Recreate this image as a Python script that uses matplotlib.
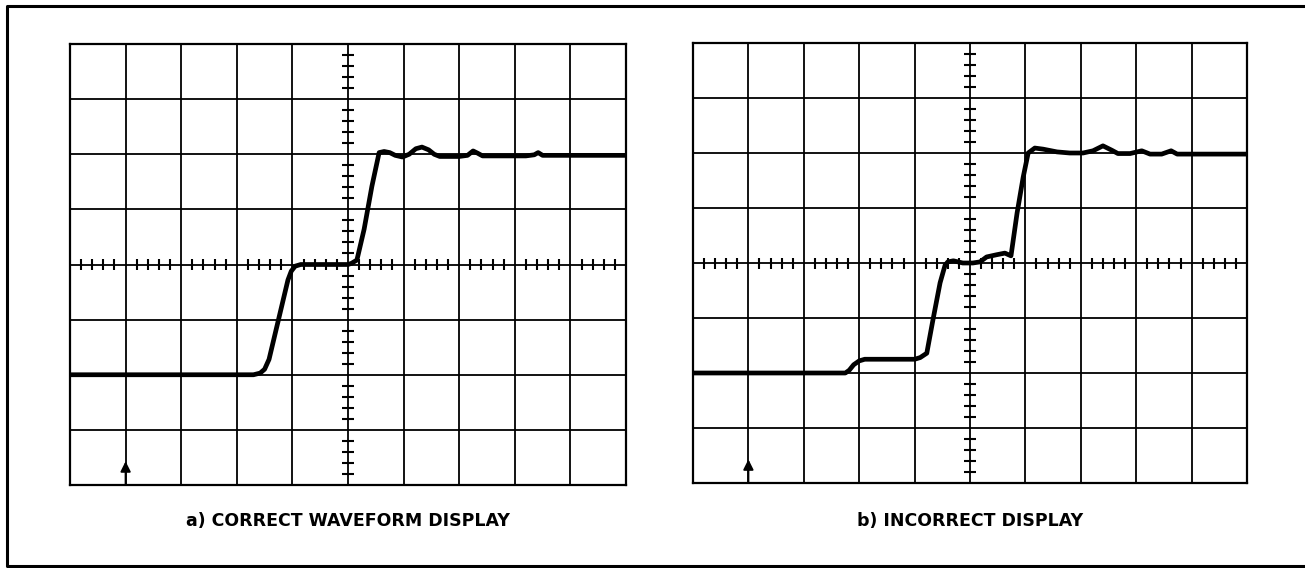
import numpy as np
import matplotlib
matplotlib.use("Agg")
import matplotlib.pyplot as plt
from matplotlib.lines import Line2D

# ── Trace data (divisions: x 0..10, y -4..4) ─────────────────
correct_x = [0.0, 3.30, 3.42, 3.50, 3.58, 3.75, 3.92, 3.98, 4.05, 4.15,
             5.00, 5.06, 5.16, 5.29, 5.43, 5.56, 5.65, 5.75, 5.85, 5.98,
             6.10, 6.22, 6.33, 6.45, 6.55, 6.65, 7.00, 7.15, 7.25, 7.33,
             7.42, 8.20, 8.35, 8.42, 8.50, 10.0]
correct_y = [-2.0, -2.0, -1.97, -1.90, -1.72, -1.00, -0.28, -0.12, -0.03, 0.0,
             0.0, 0.02, 0.08, 0.64, 1.42, 2.03, 2.05, 2.03, 1.98, 1.95,
             2.00, 2.10, 2.13, 2.08, 2.00, 1.96, 1.96, 1.98, 2.06, 2.02,
             1.97, 1.97, 1.99, 2.03, 1.98, 1.98]

incorrect_x = [0.0, 2.75, 2.82, 2.90, 3.00, 3.10, 4.00, 4.10, 4.22, 4.33,
               4.46, 4.55, 4.60, 4.70, 4.87, 5.05, 5.18, 5.30, 5.48, 5.63,
               5.74, 5.85, 5.96, 6.05, 6.17, 6.32, 6.57, 6.80, 7.04, 7.22,
               7.40, 7.56, 7.67, 7.89, 8.10, 8.25, 8.46, 8.63, 8.74, 10.0]
incorrect_y = [-2.0, -2.0, -1.95, -1.85, -1.78, -1.75, -1.75, -1.72, -1.64, -1.04,
               -0.36, -0.04, 0.02, 0.04, 0.0, 0.0, 0.02, 0.11, 0.15, 0.18,
               0.13, 0.91, 1.56, 2.00, 2.09, 2.07, 2.02, 2.00, 2.00, 2.04,
               2.13, 2.05, 1.99, 1.99, 2.04, 1.98, 1.98, 2.04, 1.98, 1.98]

titles = ["a) CORRECT WAVEFORM DISPLAY", "b) INCORRECT DISPLAY"]

W, H = 1305, 568
fig = plt.figure(figsize=(W / 100, H / 100), dpi=100)

# graticule boxes in pixels: left, top, right, bottom
boxes = [(70, 44, 626, 485), (693, 43, 1247, 483)]
traces = [(correct_x, correct_y), (incorrect_x, incorrect_y)]


def graticule(ax):
    ax.set_xlim(0, 10)
    ax.set_ylim(-4, 4)
    ax.set_xticks([])
    ax.set_yticks([])
    for s in ax.spines.values():
        s.set_linewidth(1.6)
    for i in range(1, 10):
        ax.axvline(i, color="black", lw=1.3, zorder=1)
    for j in range(-3, 4):
        ax.axhline(j, color="black", lw=1.3, zorder=1)
    # minor ticks on the centre axes
    minor_x = [t for t in np.arange(0.2, 10, 0.2) if abs(t - round(t)) > 1e-6]
    minor_y = [t for t in np.arange(-3.8, 4, 0.2) if abs(t - round(t)) > 1e-6]
    ax.vlines(minor_x, -0.1, 0.1, color="black", lw=1.5, zorder=1)
    ax.hlines(minor_y, 4.89, 5.11, color="black", lw=1.5, zorder=1)
    # trigger marker
    ax.annotate("", xy=(1, -3.57), xytext=(1, -4.0),
                arrowprops=dict(arrowstyle="-|>", lw=1.4, color="black",
                                mutation_scale=15, shrinkA=0, shrinkB=0))


for (l, t, r, b), (tx, ty), title in zip(boxes, traces, titles):
    ax = fig.add_axes([l / W, 1 - b / H, (r - l) / W, (b - t) / H])
    graticule(ax)
    ax.plot(tx, ty, color="black", lw=3.4, solid_joinstyle="round",
            solid_capstyle="round", zorder=3)
    fig.text((l + r) / 2 / W, 1 - 526 / H, title, ha="center", va="baseline",
             fontsize=12.5, fontweight="heavy", family="DejaVu Sans")

# outer frame (runs off the right edge)
left, top, bottom = 7 / W, 1 - 6 / H, 1 - 566 / H
fig.add_artist(Line2D([1.0, left, left, 1.0], [top, top, bottom, bottom],
                      color="black", lw=2.2, transform=fig.transFigure))

fig.savefig("out.png", dpi=100)
